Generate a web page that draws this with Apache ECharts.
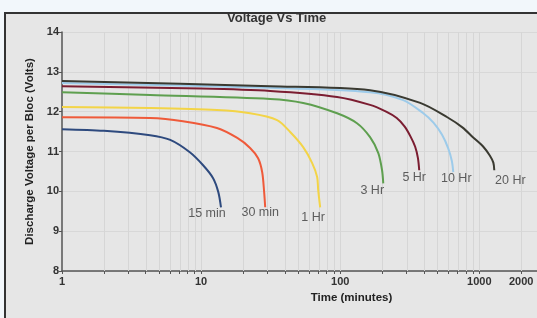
<!DOCTYPE html>
<html><head><meta charset="utf-8">
<script src="https://cdn.jsdelivr.net/npm/echarts@6/dist/echarts.min.js"></script>
<style>html,body{margin:0;padding:0;background:#f2f7fb;}#c{width:537px;height:318px;}</style>
</head><body><div id="c"></div>
<script>
const seriesNames = ['15 min','30 min','1 Hr','3 Hr','5 Hr','10 Hr','20 Hr'];
const min15 = [[1,11.56],[2,11.52],[4.3,11.41],[6,11.29],[8.3,10.98],[10.3,10.66],[12.2,10.33],[13.3,9.98],[13.9,9.6]];
const min30 = [[1,11.86],[4.3,11.84],[7.4,11.76],[13,11.59],[18.2,11.34],[22.5,11.09],[25.7,10.83],[27.5,10.48],[28.4,9.98],[28.9,9.6]];
const hr1 = [[1,12.12],[4.3,12.09],[13,12.04],[22.5,11.96],[35.2,11.79],[43.7,11.49],[54.2,11.11],[62.9,10.71],[68.3,10.36],[69.5,10.03],[71.8,9.6]];
const hr3 = [[1,12.49],[4.3,12.42],[31.4,12.32],[54.2,12.22],[95,11.96],[132,11.71],[164,11.36],[188,10.96],[200,10.53],[204,10.2]];
const hr5 = [[1,12.64],[10,12.58],[31.4,12.52],[95,12.37],[164,12.17],[214,12.0],[255,11.84],[290,11.63],[320,11.38],[346,11.12],[362,10.84],[370,10.53]];
const hr10 = [[1,12.72],[31.4,12.6],[164,12.49],[284,12.29],[396,11.96],[470,11.72],[540,11.42],[598,11.08],[635,10.76],[650,10.48]];
const hr20 = [[1,12.77],[31.4,12.64],[164,12.54],[376,12.22],[589,11.86],[760,11.6],[900,11.36],[1069,11.12],[1190,10.9],[1262,10.72],[1282,10.53]];
const xLabelValues = [1,10,100,1000,2000];
const xTickValues = [1,2,3,4,5,6,7,8,9,10,20,30,40,50,60,70,80,90,100,200,300,400,500,600,700,800,900,1000,2000];
const xGridValues = [2,3,4,5,6,7,8,9,10,20,30,40,50,60,70,80,90,100,200,300,400,500,600,700,800,900,1000,2000];

const colors = ['#2e4a7e','#ef5a3a','#f3d447','#5e9f4f','#7b1d31','#9dcbea','#3a3a31'];
const allData = [min15,min30,hr1,hr3,hr5,hr10,hr20];
const labelOffsets = [[-14,6],[-5,5],[-7,10],[-11,7],[-5,7],[3,6],[16,10]];

const chart = echarts.init(document.getElementById('c'), null, {renderer:'canvas'});
const font = 'Liberation Sans, Arial, sans-serif';

const series = allData.map((d, i) => ({
  type: 'line',
  name: seriesNames[i],
  data: d,
  smooth: 0.3,
  showSymbol: false,
  symbol: 'none',
  lineStyle: {color: colors[i], width: 2},
  itemStyle: {color: colors[i]},
  z: 3,
  clip: false
}));

// end labels, placed at each curve's last point
allData.forEach((d, i) => {
  series.push({
    type: 'scatter',
    silent: true,
    z: 4,
    symbol: 'circle',
    symbolSize: 1,
    itemStyle: {color: 'rgba(0,0,0,0)'},
    data: [d[d.length - 1]],
    label: {show: true, position: 'inside', offset: labelOffsets[i], formatter: seriesNames[i],
      color: '#3a3a3a', fontSize: 12.5, fontFamily: font}
  });
});

series.unshift({
  type: 'custom',
  data: xGridValues,
  silent: true,
  z: 1,
  renderItem: function (params, api) {
    const v = api.value(0);
    const top = api.coord([v, 14]);
    const bot = api.coord([v, 8]);
    return {type: 'line', shape: {x1: Math.round(top[0]) + 0.5, y1: top[1], x2: Math.round(bot[0]) + 0.5, y2: bot[1]},
      style: {stroke: '#d6d6d6', lineWidth: 1}};
  }
});

chart.setOption({
  backgroundColor: '#e6e6e6',
  animation: false,
  title: {text: 'Voltage Vs Time', left: 222, top: 7,
    textStyle: {fontSize: 13, fontWeight: 'bold', color: '#333', fontFamily: font}},
  grid: {left: 62, right: 0, top: 32, bottom: 47},
  xAxis: {
    type: 'log', logBase: 10, min: 1, max: 2600,
    name: 'Time (minutes)', nameLocation: 'middle', nameGap: 21,
    nameTextStyle: {fontSize: 11.5, fontWeight: 'bold', color: '#222', fontFamily: font, padding: [0,0,0,104]},
    axisLine: {lineStyle: {color: '#555', width: 1.5}},
    axisTick: {show: true, length: 3, lineStyle: {color: '#555'}, customValues: xTickValues},
    axisLabel: {customValues: xLabelValues, fontSize: 11, fontWeight: 'bold', color: '#333', fontFamily: font, margin: 5,
      formatter: function (v) { return String(Math.round(v)); }},
    splitLine: {show: false},
    minorTick: {show: false}
  },
  yAxis: {
    type: 'value', min: 8, max: 14, interval: 1,
    name: 'Discharge Voltage per Bloc (Volts)', nameLocation: 'middle', nameGap: 26,
    nameTextStyle: {fontSize: 11.5, fontWeight: 'bold', color: '#222', fontFamily: font},
    axisLine: {show: true, lineStyle: {color: '#555', width: 1.5}},
    axisTick: {show: true, length: 3, lineStyle: {color: '#555'}},
    axisLabel: {fontSize: 11, fontWeight: 'bold', color: '#333', fontFamily: font, margin: 3},
    splitLine: {show: true, lineStyle: {color: '#d8d8d8', width: 1}}
  },
  graphic: [
    {type: 'rect', z: 100, shape: {x: 0, y: 0, width: 537, height: 12}, style: {fill: '#f2f7fb'}},
    {type: 'rect', z: 100, shape: {x: 0, y: 0, width: 4, height: 318}, style: {fill: '#f2f7fb'}},
    {type: 'polyline', z: 101, shape: {points: [[5, 318], [5, 13], [537, 13]]}, style: {stroke: '#333', lineWidth: 2, fill: null}}
  ],
  series: series
});
</script>
</body></html>
